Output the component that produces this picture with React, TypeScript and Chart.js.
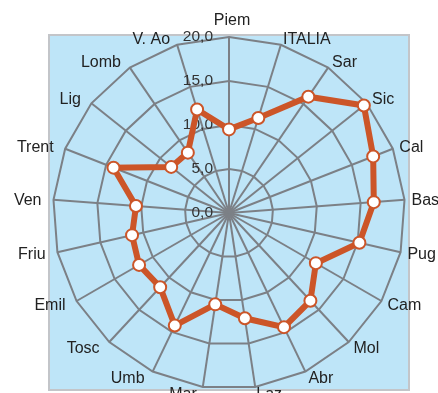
import React, { useEffect, useRef } from "react";
import { Chart, registerables } from "chart.js";

Chart.register(...registerables);

const regions: string[] = [
  "Piem", "ITALIA", "Sar", "Sic", "Cal", "Bas", "Pug", "Cam", "Mol", "Abr", "Laz",
  "Mar", "Umb", "Tosc", "Emil", "Friu", "Ven", "Trent", "Lig", "Lomb", "V. Ao",
];
const values: number[] = [
  9.5, 11.3, 16.0, 19.6, 17.6, 16.5, 15.2, 11.4, 13.6, 14.4, 12.1,
  10.5, 14.2, 11.5, 11.8, 11.3, 10.6, 14.1, 8.4, 8.3, 12.3,
];
const tickValues: number[] = [0, 5, 10, 15, 20];

const fmt = (v: number) => v.toFixed(1).replace(".", ",");

const decor = {
  id: "decor",
  beforeDraw(chart: any) {
    const s = chart.scales.r;
    const ctx = chart.ctx;
    const cx = s.xCenter, cy = s.yCenter, R = s.drawingArea;
    ctx.save();
    ctx.fillStyle = "#bee5f8";
    ctx.fillRect(cx - R - 4, cy - R - 2, 2 * R + 8, 2 * R + 3);
    ctx.strokeStyle = "#c3c5c9";
    ctx.lineWidth = 2;
    ctx.strokeRect(cx - R - 4, cy - R - 2, 2 * R + 8, 2 * R + 3);
    ctx.restore();
  },
  beforeDatasetsDraw(chart: any) {
    const s = chart.scales.r;
    const ctx = chart.ctx;
    const cx = s.xCenter, cy = s.yCenter, R = s.drawingArea;
    ctx.save();
    // tick labels
    ctx.fillStyle = "#333333";
    ctx.font = '15.5px "Liberation Sans", Arial, sans-serif';
    ctx.textAlign = "right";
    ctx.textBaseline = "middle";
    tickValues.forEach((v) => {
      const y = cy - s.getDistanceFromCenterForValue(v);
      ctx.fillText(fmt(v), cx - 16, y);
    });
    // point labels
    ctx.fillStyle = "#222222";
    ctx.font = '16px "Liberation Sans", Arial, sans-serif';
    regions.forEach((lab, i) => {
      const p = s.getPointPosition(i, R + 7);
      const a = s.getIndexAngle(i);
      const sn = Math.sin(a);
      if (Math.abs(sn) < 0.01) {
        ctx.textAlign = "center";
        ctx.textBaseline = "alphabetic";
        ctx.fillText(lab, p.x + 3, p.y - 5);
      } else if (sn > 0) {
        ctx.textAlign = "left";
        ctx.textBaseline = "middle";
        ctx.fillText(lab, p.x, p.y + 1);
      } else {
        ctx.textAlign = "right";
        ctx.textBaseline = "middle";
        ctx.fillText(lab, p.x - 5, p.y + 1);
      }
    });
    ctx.restore();
  },
};

export default function App() {
  const ref = useRef<HTMLCanvasElement | null>(null);
  useEffect(() => {
    if (!ref.current) return;
    const chart = new Chart(ref.current, {
      type: "radar",
      data: {
        labels: regions,
        datasets: [
          {
            data: values,
            borderColor: "#cc5528",
            borderWidth: 6,
            fill: false,
            tension: 0,
            pointRadius: 6,
            pointHoverRadius: 6,
            pointBackgroundColor: "#ffffff",
            pointBorderColor: "#cc5528",
            pointBorderWidth: 2,
          },
        ],
      },
      options: {
        responsive: false,
        animation: false,
        layout: { padding: { left: 53, right: 33, top: 37, bottom: 51 } },
        plugins: {
          legend: { display: false },
          tooltip: { enabled: false },
          title: { display: false },
        },
        scales: {
          r: {
            min: 0,
            max: 20,
            ticks: { display: false, stepSize: 5 },
            pointLabels: { display: false },
            grid: { color: "#7c8086", lineWidth: 2 },
            angleLines: { color: "#7c8086", lineWidth: 2 },
          },
        },
      },
      plugins: [decor],
    });
    return () => chart.destroy();
  }, []);
  return (
    <div
      style={{
        position: "absolute",
        left: 0,
        top: 0,
        width: 438,
        height: 393,
        overflow: "hidden",
        background: "#ffffff",
      }}
    >
      <canvas ref={ref} width={438} height={440} style={{ display: "block" }} />
    </div>
  );
}
